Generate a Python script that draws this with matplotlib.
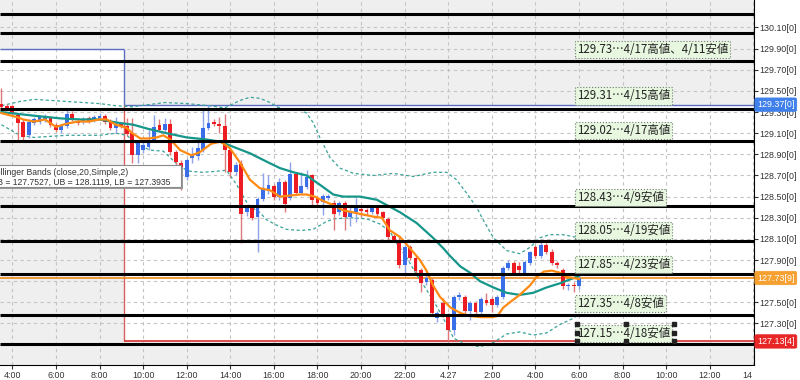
import matplotlib
matplotlib.use("Agg")
import matplotlib.pyplot as plt
from matplotlib.patches import Rectangle

plt.rcParams['font.family'] = ['Liberation Sans', 'Noto Sans CJK JP', 'DejaVu Sans']

# 15-minute candles, index 0 = 3:30
opens = [129.38, 129.36, 129.36, 129.27, 129.21, 129.08, 129.20, 129.21, 129.23, 129.24,
         129.18, 129.13, 129.17, 129.28, 129.22, 129.21, 129.24, 129.23, 129.24, 129.26,
         129.21, 129.15, 129.19, 129.17, 129.10, 128.89, 128.94, 128.97, 129.04, 129.18,
         129.13, 129.19, 128.92, 128.82, 128.69, 128.87, 128.88, 128.94, 129.15, 129.20,
         129.19, 129.17, 128.94, 128.73, 128.81, 128.35, 128.40, 128.31, 128.48, 128.57,
         128.60, 128.50, 128.64, 128.49, 128.71, 128.53, 128.59, 128.70, 128.49, 128.45,
         128.49, 128.44, 128.35, 128.44, 128.31, 128.35, 128.38, 128.37, 128.35, 128.40,
         128.35, 128.29, 128.13, 128.09, 127.85, 128.02, 127.92, 127.81, 127.69, 127.71,
         127.35, 127.49, 127.38, 127.24, 127.55, 127.55, 127.42, 127.49, 127.41, 127.52,
         127.53, 127.47, 127.55, 127.82, 127.87, 127.84, 127.78, 127.87, 128.02, 127.94,
         128.04, 127.98, 127.87, 127.81, 127.65, 127.66, 127.65]
highs = [129.53, 129.38, 129.37, 129.29, 129.23, 129.23, 129.25, 129.27, 129.28, 129.26,
         129.20, 129.19, 129.32, 129.31, 129.24, 129.25, 129.26, 129.27, 129.29, 129.28,
         129.23, 129.25, 129.21, 129.24, 129.24, 129.04, 129.02, 129.13, 129.27, 129.23,
         129.24, 129.23, 128.94, 128.85, 128.87, 128.97, 129.04, 129.32, 129.37, 129.23,
         129.25, 129.28, 128.96, 128.83, 128.85, 128.42, 128.42, 128.50, 128.72, 128.70,
         128.62, 128.68, 128.66, 128.83, 128.73, 128.73, 128.75, 128.71, 128.51, 128.52,
         128.52, 128.47, 128.46, 128.46, 128.42, 128.49, 128.40, 128.39, 128.42, 128.42,
         128.36, 128.31, 128.15, 128.12, 128.04, 128.04, 127.94, 127.82, 127.76, 127.73,
         127.42, 127.54, 127.40, 127.57, 127.60, 127.57, 127.51, 127.51, 127.55, 127.59,
         127.55, 127.57, 127.84, 127.90, 127.89, 127.88, 127.90, 127.99, 128.04, 128.09,
         128.06, 128.00, 127.89, 127.82, 127.68, 127.69, 127.75]
lows = [129.32, 129.32, 129.27, 129.04, 129.04, 129.05, 129.18, 129.19, 129.21, 129.16,
        129.11, 129.10, 129.15, 129.22, 129.18, 129.19, 129.20, 129.21, 129.23, 129.19,
        129.13, 129.10, 129.15, 129.07, 128.82, 128.82, 128.91, 128.94, 129.02, 129.11,
        129.10, 128.89, 128.79, 128.56, 128.66, 128.82, 128.85, 128.92, 129.13, 129.17,
        129.10, 128.73, 128.69, 128.70, 128.06, 128.32, 128.28, 127.98, 128.46, 128.52,
        128.47, 128.47, 128.35, 128.47, 128.52, 128.52, 128.57, 128.42, 128.42, 128.33,
        128.47, 128.18, 128.33, 128.18, 128.22, 128.26, 128.31, 128.33, 128.34, 128.31,
        128.28, 128.07, 128.07, 127.82, 127.78, 127.90, 127.78, 127.60, 127.66, 127.38,
        127.31, 127.36, 127.13, 127.19, 127.52, 127.40, 127.33, 127.39, 127.39, 127.47,
        127.41, 127.46, 127.53, 127.81, 127.76, 127.78, 127.76, 127.85, 127.92, 127.92,
        127.96, 127.85, 127.82, 127.63, 127.62, 127.60, 127.63]
closes = [129.35, 129.34, 129.29, 129.20, 129.06, 129.21, 129.23, 129.25, 129.26, 129.18,
          129.13, 129.17, 129.28, 129.24, 129.20, 129.23, 129.22, 129.25, 129.26, 129.21,
          129.15, 129.19, 129.17, 129.09, 128.89, 129.01, 128.99, 129.04, 129.16, 129.13,
          129.19, 128.92, 128.83, 128.69, 128.85, 128.89, 128.96, 129.15, 129.20, 129.19,
          129.17, 128.94, 128.73, 128.80, 128.34, 128.40, 128.30, 128.48, 128.57, 128.61,
          128.50, 128.64, 128.43, 128.71, 128.53, 128.60, 128.69, 128.47, 128.44, 128.51,
          128.51, 128.34, 128.44, 128.31, 128.35, 128.39, 128.36, 128.35, 128.40, 128.34,
          128.30, 128.12, 128.09, 127.85, 128.02, 127.92, 127.80, 127.68, 127.73, 127.40,
          127.40, 127.38, 127.24, 127.55, 127.57, 127.42, 127.49, 127.41, 127.53, 127.49,
          127.47, 127.55, 127.82, 127.87, 127.78, 127.81, 127.88, 127.98, 127.94, 128.04,
          127.98, 127.87, 127.85, 127.65, 127.66, 127.65, 127.73]

# indicator lines (x = candle index, y = price)
ma_fast_x = [0, 3, 4, 6, 8, 10, 12, 14, 16, 18, 19.3, 21, 23, 24, 25.5, 27, 28.5, 29.7, 31, 32.8,
             34.9, 36.4, 38.5, 40.2, 41.9, 43.8, 45.6, 47.4, 49.3, 51.1, 53, 54.8, 56, 57.5, 59,
             60.9, 62.7, 64.6, 66.4, 68.3, 69.8, 71.3, 73.1, 75, 76.8, 78, 79.2, 80.5, 82.4, 84.2,
             86, 88, 90, 91, 92.1, 93.3, 95.1, 97, 98.2, 99.5, 101, 102.5, 103.7, 105, 106]
ma_fast_y = [129.29, 129.25, 129.23, 129.21, 129.23, 129.16, 129.19, 129.21, 129.21, 129.23, 129.23,
             129.18, 129.15, 129.10, 129.05, 129.05, 129.06, 129.08, 129.04, 128.94, 128.89, 128.92,
             129.00, 129.02, 128.96, 128.82, 128.66, 128.58, 128.56, 128.50, 128.51, 128.52, 128.52,
             128.50, 128.46, 128.42, 128.37, 128.35, 128.33, 128.31, 128.30, 128.18, 128.12, 128.01,
             127.90, 127.80, 127.66, 127.55, 127.45, 127.40, 127.37, 127.36, 127.36, 127.37, 127.45,
             127.50, 127.57, 127.66, 127.74, 127.79, 127.80, 127.78, 127.74, 127.73, 127.72]
bb_mid_x = [0, 3.4, 7, 10.8, 14.4, 18, 21.2, 24.2, 27, 30.3, 34, 37.7, 40.1, 42.6, 45.6, 48.7, 51.1,
            53.6, 56, 58.5, 60.9, 62.7, 65.8, 68.9, 70.7, 73.2, 76.2, 79.2, 81.1, 82.3, 84.2, 86,
            87.8, 90.3, 92.7, 95.1, 97.6, 100, 102.5, 105, 106]
bb_mid_y = [129.30, 129.28, 129.26, 129.24, 129.23, 129.23, 129.20, 129.18, 129.14, 129.10, 129.06,
            129.04, 129.02, 128.97, 128.91, 128.83, 128.77, 128.73, 128.70, 128.61, 128.52, 128.50,
            128.50, 128.47, 128.42, 128.35, 128.25, 128.11, 128.01, 127.94, 127.84, 127.78, 127.70,
            127.64, 127.59, 127.57, 127.59, 127.64, 127.68, 127.73, 127.75]
bb_up_x = [0, 3.4, 6, 9, 12, 15, 18, 21, 24, 27, 30, 34, 38, 41, 43.8, 45.6, 47.4, 49.3, 50.5, 52.3,
           54.8, 56, 57.2, 58.5, 60.3, 62.1, 64.6, 68.3, 71.9, 75.6, 79.2, 81.7, 83.5, 85.4, 87.2,
           88.4, 90.3, 92.7, 95.1, 97, 98.8, 100.6, 103, 106]
bb_up_y = [129.36, 129.40, 129.42, 129.41, 129.40, 129.39, 129.38, 129.36, 129.35, 129.37, 129.39,
           129.38, 129.36, 129.34, 129.41, 129.44, 129.43, 129.39, 129.35, 129.32, 129.32, 129.29,
           129.20, 129.05, 128.87, 128.77, 128.72, 128.70, 128.72, 128.69, 128.73, 128.73, 128.66,
           128.53, 128.40, 128.28, 128.11, 127.99, 127.96, 128.02, 128.11, 128.14, 128.14, 128.11]
bb_lo_x = [0, 3.4, 6, 12, 18, 21, 23, 25, 27.3, 29.7, 32.8, 34.6, 37, 39.5, 41.3, 43.2, 45.3, 47.4,
           48.7, 50.5, 52.3, 55, 57.2, 59.5, 61, 64, 67, 69.5, 71.3, 72.5, 74.3, 76.2, 78, 79.9,
           81.7, 83, 85.4, 87.8, 90.3, 92.7, 95.1, 97.6, 100, 102.5, 105, 106]
bb_lo_y = [129.18, 129.08, 129.06, 129.08, 129.08, 129.10, 129.08, 128.99, 128.94, 128.93, 128.78,
           128.74, 128.73, 128.74, 128.75, 128.61, 128.42, 128.35, 128.28, 128.23, 128.19, 128.18,
           128.19, 128.26, 128.29, 128.30, 128.29, 128.24, 128.17, 128.06, 127.93, 127.76, 127.62,
           127.46, 127.29, 127.16, 127.10, 127.08, 127.12, 127.20, 127.22, 127.19, 127.21, 127.29,
           127.35, 127.39]

level_prices = [130.228, 130.048, 129.783, 129.329, 129.026, 128.411, 128.080, 127.768, 127.380, 127.105]
note_texts = ["129.73\u20264/17高値、4/11安値", "129.31\u20264/15高値", "129.02\u20264/17高値",
              "128.43\u20264/9安値", "128.05\u20264/19安値", "127.85\u20264/23安値",
              "127.35\u20264/8安値", "127.15\u20264/18安値"]
note_prices = [129.892, 129.452, 129.125, 128.491, 128.179, 127.858, 127.489, 127.205]

tick_pos = [2, 10, 18, 26, 34, 42, 50, 58, 66, 74, 82, 90, 98, 106, 114, 122, 130, 138]
tick_lbl = ["4:00", "6:00", "8:00", "10:00", "12:00", "14:00", "16:00", "18:00", "20:00", "22:00",
            "4.27", "2:00", "4:00", "6:00", "8:00", "10:00", "12:00", "14:00"]

day_high, day_low, last_price = 129.37, 127.13, 127.73
prev_top, prev_bottom, box_start = 129.896, 129.026, 22.5

W, H = 800, 380
fig = plt.figure(figsize=(8, 3.8), dpi=100)
ax = fig.add_axes([0, 15 / H, 754 / W, 365 / H])
ax.set_facecolor('#efefef')
x0, x1 = -0.26, 138.1
ax.set_xlim(x0, x1)
ax.set_ylim(126.907, 130.36)

# range boxes
ax.add_patch(Rectangle((x0, prev_bottom), box_start - x0, prev_top - prev_bottom,
                       fc='white', ec='none', zorder=0.1))
ax.add_patch(Rectangle((box_start, day_low), x1 - box_start, day_high - day_low,
                       fc='white', ec='none', zorder=0.1))
ax.set_axisbelow(True)
ax.grid(True, color='#c4c4c4', lw=0.8, ls=(0, (3, 3)))

ax.hlines(prev_top, x0, box_start, color='#5a6fc0', lw=1, zorder=1.5)
ax.vlines(box_start, day_high, prev_top, color='#5a6fc0', lw=1, zorder=1.5)
ax.hlines(day_high, box_start, x1, color='#5a6fc0', lw=1, zorder=1.5)
ax.vlines(box_start, day_low, day_high, color='#d86060', lw=1, zorder=1.5)
ax.hlines(day_low, box_start, x1, color='#d83030', lw=1.2, zorder=1.5)
ax.hlines(last_price, x0, x1, color='#f08a1c', lw=1.2, zorder=1.5)

# bollinger bands + moving averages
ax.plot(bb_up_x, bb_up_y, color='#3aa39a', lw=0.9, ls=(0, (2.5, 2)), zorder=2)
ax.plot(bb_lo_x, bb_lo_y, color='#3aa39a', lw=0.9, ls=(0, (2.5, 2)), zorder=2)

# candles
xs = list(range(len(opens)))
up = [c >= o for o, c in zip(opens, closes)]
body_col = ['#3a6ee8' if u else '#ec1c22' for u in up]
wick_col = ['#8ea3ea' if u else '#e07878' for u in up]
ax.vlines(xs, lows, highs, colors=wick_col, lw=1, zorder=2.2)
bottoms = [min(o, c) for o, c in zip(opens, closes)]
heights = [max(abs(c - o), 0.012) for o, c in zip(opens, closes)]
ax.bar(xs, heights, bottom=bottoms, width=0.7, color=body_col, lw=0, zorder=2.3)

ax.plot(bb_mid_x, bb_mid_y, color='#15968a', lw=1.6, zorder=2.5)
ax.plot(ma_fast_x, ma_fast_y, color='#ff8a12', lw=1.6, zorder=2.6)

ax.hlines(level_prices, x0, x1, color='black', lw=2.2, zorder=3)

for s, p in zip(note_texts, note_prices):
    ax.text(105.6, p, s, fontsize=8.3, family=['Noto Sans CJK JP'], color='#222222',
            va='center', ha='left', zorder=4,
            bbox=dict(boxstyle='square,pad=0.18', fc='#e8f7e0', ec='#6a806a', ls=':', lw=0.8))
ax.plot([105.6, 114.6, 123.4, 105.6, 123.4, 105.6, 114.6, 123.4],
        [127.295, 127.295, 127.295, 127.214, 127.214, 127.134, 127.134, 127.134],
        's', color='#222222', ms=2.6, zorder=5)

# axes styling
for side in ['left', 'top']:
    ax.spines[side].set_visible(False)
ax.spines['right'].set_color('black')
ax.spines['bottom'].set_color('black')
ax.yaxis.tick_right()
yt = [127.10 + 0.2 * k for k in range(16)]
ax.set_yticks(yt)
# 127.10 and 127.70 sit under the price tags
ax.set_yticklabels(['' if round(v, 2) in (127.10, 127.70) else '%.2f[0]' % v for v in yt])
ax.set_xticks(tick_pos)
ax.set_xticklabels(tick_lbl)
ax.tick_params(axis='y', labelsize=6.4, length=3, pad=1, colors='#333333')
ax.tick_params(axis='x', labelsize=6.4, length=3, pad=1.5, colors='#333333')

tag_tr = ax.get_yaxis_transform()
for v, s, fc in [(day_high, '129.37[0]', '#3f80ea'), (last_price, '127.73[9]', '#f5a030'),
                 (day_low, '127.13[4]', '#e82626')]:
    ax.text(1.004, v, s, transform=tag_tr, fontsize=6.4, color='white', va='center', ha='left',
            zorder=6, clip_on=False,
            bbox=dict(boxstyle='round,pad=0.25,rounding_size=0.2', fc=fc, ec=fc, lw=0.5))


# bollinger info box (figure pixel coords, top-left origin)
def fx(x):
    return x / W


def fy(y):
    return 1 - y / H


fig.add_artist(Rectangle((fx(-6), fy(189)), fx(189), 22 / H, transform=fig.transFigure,
                         fc='#9a9a9a', ec='none', zorder=7))
fig.add_artist(Rectangle((fx(-8), fy(187)), fx(189), 22 / H, transform=fig.transFigure,
                         fc='white', ec='#8a8a8a', lw=0.8, zorder=7.1))
fig.text(fx(-10.5), fy(172), 'Bollinger Bands (close,20,Simple,2)', fontsize=6.2,
         color='#333333', va='center', ha='left', zorder=8)
fig.text(fx(-10.5), fy(182), 'MB = 127.7527, UB = 128.1119, LB = 127.3935', fontsize=6.2,
         color='#333333', va='center', ha='left', zorder=8)

# hide the overflow of the last time label beyond the price scale
fig.add_artist(Rectangle((fx(752), 0), fx(50), 14.5 / H, transform=fig.transFigure,
                         fc='white', ec='none', zorder=9))

fig.savefig('out.png', dpi=100, facecolor='white')
